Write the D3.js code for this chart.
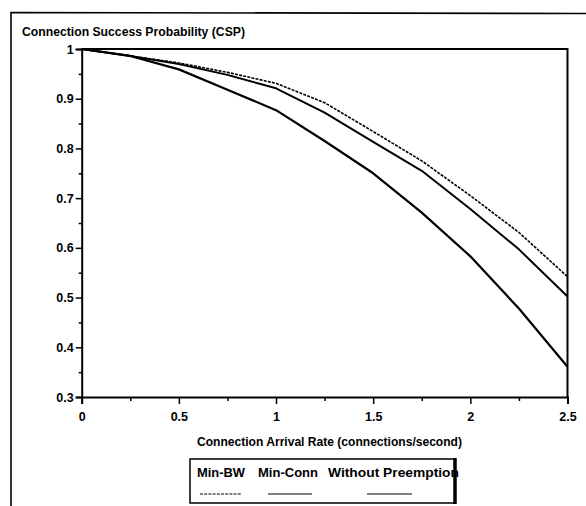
<!DOCTYPE html>
<html>
<head>
<meta charset="utf-8">
<script src="https://cdn.jsdelivr.net/npm/d3@7"></script>
<style>
  html, body { margin: 0; padding: 0; background: #fff; }
  svg { display: block; }
  text { font-family: "Liberation Sans", Arial, sans-serif; font-weight: bold; fill: #000; }
</style>
</head>
<body>
<svg id="chart" width="586" height="506"></svg>
<script>
// ---- data ----
const arrivalRates = [0, 0.25, 0.5, 0.75, 1.0, 1.25, 1.5, 1.75, 2.0, 2.25, 2.5];
const minBW        = [1, 0.986, 0.972, 0.953, 0.931, 0.892, 0.834, 0.775, 0.705, 0.631, 0.542];
const minConn      = [1, 0.986, 0.970, 0.948, 0.921, 0.872, 0.813, 0.755, 0.678, 0.597, 0.502];
const withoutPre   = [1, 0.986, 0.959, 0.918, 0.877, 0.815, 0.750, 0.671, 0.583, 0.478, 0.361];
const seriesNames  = ["Min-BW", "Min-Conn", "Without Preemption"];
const xTickValues  = [0, 0.5, 1, 1.5, 2, 2.5];
const xTickLabels  = ["0", "0.5", "1", "1.5", "2", "2.5"];
const xMinorTicks  = [0.25, 0.75, 1.25, 1.75, 2.25];
const yTickValues  = [0.3, 0.4, 0.5, 0.6, 0.7, 0.8, 0.9, 1];
const yTickLabels  = ["0.3", "0.4", "0.5", "0.6", "0.7", "0.8", "0.9", "1"];
const yMinorTicks  = [0.35, 0.45, 0.55, 0.65, 0.75, 0.85, 0.95];
const titleText    = "Connection Success Probability (CSP)";
const xLabelText   = "Connection Arrival Rate (connections/second)";

const series = [
  { name: seriesNames[0], values: minBW, dash: "3,1.2", width: 1.6 },
  { name: seriesNames[1], values: minConn, dash: null, width: 2 },
  { name: seriesNames[2], values: withoutPre, dash: null, width: 2.2 }
];

const svg = d3.select("#chart");

const x = d3.scaleLinear().domain([0, 2.5]).range([81.7, 567.5]);
const y = d3.scaleLinear().domain([0.3, 1]).range([397, 49]);

// outer frame (left + top)
svg.append("path")
  .attr("d", "M11,506 L11,12.5 L586,13.5")
  .attr("fill", "none").attr("stroke", "#000").attr("stroke-width", 1.6);

// title
svg.append("text")
  .attr("x", 22).attr("y", 36)
  .attr("font-size", 13)
  .attr("textLength", 223).attr("lengthAdjust", "spacingAndGlyphs")
  .text(titleText);

// plot box top + right border
svg.append("path")
  .attr("d", `M${x(0)},${y(1)} L${x(2.5)},${y(1)} L${x(2.5)},${y(0.3)}`)
  .attr("fill", "none").attr("stroke", "#000").attr("stroke-width", 2);

// y axis
const yAxis = d3.axisLeft(y).tickValues(yTickValues).tickSize(6).tickPadding(2)
  .tickFormat((d, i) => yTickLabels[i]);
const gy = svg.append("g").attr("transform", `translate(${x(0)},0)`).call(yAxis);
gy.select(".domain").attr("stroke-width", 2);
gy.selectAll(".tick line").attr("stroke-width", 1.5);
gy.selectAll("text").attr("font-size", 12.5).attr("font-family", "Liberation Sans, Arial, sans-serif").attr("font-weight", "bold");

const yMinor = d3.axisLeft(y).tickValues(yMinorTicks).tickSize(3).tickFormat("");
const gym = svg.append("g").attr("transform", `translate(${x(0)},0)`).call(yMinor);
gym.select(".domain").remove();
gym.selectAll(".tick line").attr("stroke-width", 1.5);

// x axis
const xAxis = d3.axisBottom(x).tickValues(xTickValues).tickSize(7).tickPadding(8)
  .tickFormat((d, i) => xTickLabels[i]);
const gx = svg.append("g").attr("transform", `translate(0,${y(0.3)})`).call(xAxis);
gx.select(".domain").attr("stroke-width", 2);
gx.selectAll(".tick line").attr("stroke-width", 1.5);
gx.selectAll("text").attr("font-size", 12.5).attr("font-family", "Liberation Sans, Arial, sans-serif").attr("font-weight", "bold");

const xMinor = d3.axisBottom(x).tickValues(xMinorTicks).tickSize(4).tickFormat("");
const gxm = svg.append("g").attr("transform", `translate(0,${y(0.3)})`).call(xMinor);
gxm.select(".domain").remove();
gxm.selectAll(".tick line").attr("stroke-width", 1.5);

// x label
svg.append("text")
  .attr("x", 197).attr("y", 446)
  .attr("font-size", 12)
  .attr("textLength", 265).attr("lengthAdjust", "spacingAndGlyphs")
  .text(xLabelText);

// lines
const line = d3.line()
  .x((d, i) => x(arrivalRates[i]))
  .y(d => y(d));

series.forEach(s => {
  svg.append("path")
    .datum(s.values)
    .attr("d", line)
    .attr("fill", "none")
    .attr("stroke", "#000")
    .attr("stroke-width", s.width)
    .attr("stroke-dasharray", s.dash)
    .attr("stroke-linejoin", "round");
});

// legend
const legend = svg.append("g");
const legendItems = [
  { tx: 197, tlen: 48, lx1: 200, lx2: 242 },
  { tx: 258, tlen: 60, lx1: 268, lx2: 312 },
  { tx: 328, tlen: 131, lx1: 367, lx2: 412 }
];
series.forEach((s, i) => {
  const it = legendItems[i];
  legend.append("text")
    .attr("x", it.tx).attr("y", 477)
    .attr("font-size", 12.5)
    .attr("textLength", it.tlen).attr("lengthAdjust", "spacingAndGlyphs")
    .text(s.name);
  legend.append("line")
    .attr("x1", it.lx1).attr("x2", it.lx2)
    .attr("y1", 494).attr("y2", 494)
    .attr("stroke", "#000")
    .attr("stroke-width", 1.2)
    .attr("stroke-dasharray", s.dash);
});
legend.append("rect")
  .attr("x", 190).attr("y", 459).attr("width", 265).attr("height", 44)
  .attr("fill", "none").attr("stroke", "#000").attr("stroke-width", 1.5);
legend.append("line")
  .attr("x1", 455).attr("x2", 455).attr("y1", 458).attr("y2", 504)
  .attr("stroke", "#000").attr("stroke-width", 3.5);
</script>
</body>
</html>
